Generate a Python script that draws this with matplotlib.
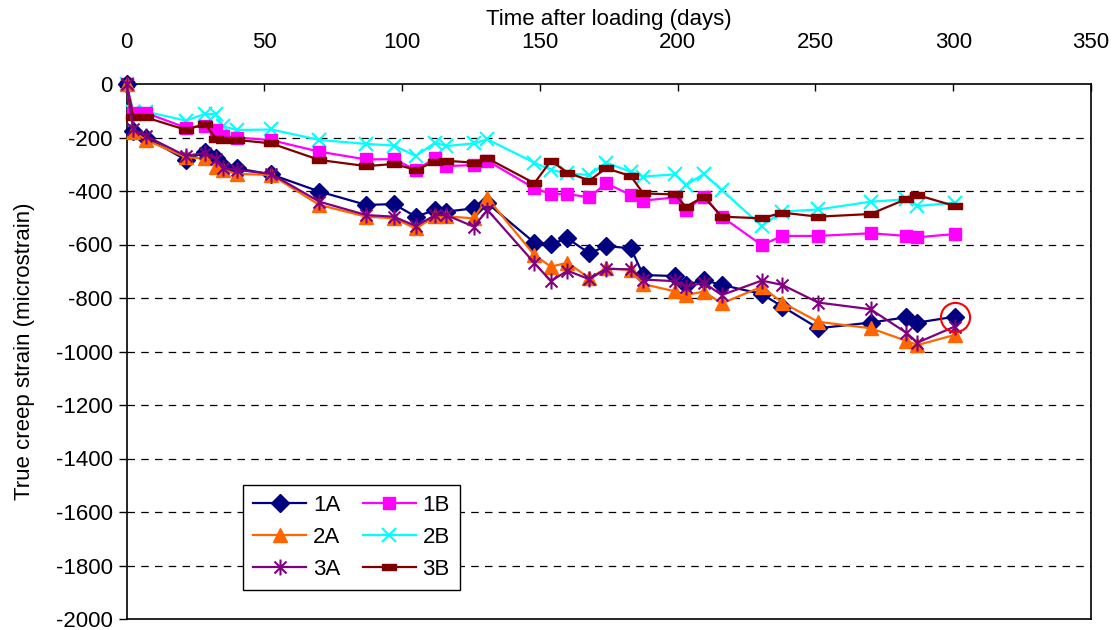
import matplotlib
matplotlib.use("Agg")
import matplotlib.pyplot as plt
from matplotlib.path import Path

plt.rcParams['font.family'] = ['Liberation Sans', 'DejaVu Sans']
plt.rcParams['axes.unicode_minus'] = False

# days after loading (shared by all six specimens)
days = [0, 2.5, 7, 21.5, 28.5, 32.5, 35, 40, 52.5, 70, 87, 97, 105, 112, 116,
        126, 131, 148, 154, 160, 168, 174, 183, 187.5, 199, 203, 209.5, 216,
        230.5, 238, 251, 270, 283, 287, 300.5]

s1A = [0, -174, -200, -283, -255, -275, -305, -315, -338, -402, -452, -449,
       -496, -471, -477, -465, -446, -593, -598, -577, -633, -606, -614, -714,
       -718, -751, -733, -751, -785, -832, -913, -892, -872, -892, -870]
s2A = [0, -178, -209, -274, -278, -309, -321, -336, -340, -452, -496, -502,
       -540, -495, -495, -502, -427, -639, -683, -668, -726, -689, -695, -748,
       -775, -789, -776, -820, -758, -817, -889, -913, -960, -976, -938]
s3A = [0, -170, -194, -269, -257, -282, -315, -321, -336, -440, -490, -496,
       -531, -490, -490, -533, -471, -669, -737, -698, -730, -691, -693, -731,
       -737, -758, -743, -789, -735, -751, -817, -842, -930, -967, -907]
s1B = [0, -110, -108, -163, -157, -172, -195, -200, -210, -253, -282, -281,
       -321, -278, -307, -303, -287, -390, -411, -411, -424, -371, -415, -436,
       -424, -471, -421, -496, -602, -568, -568, -558, -568, -573, -561]
s2B = [0, -103, -103, -137, -112, -113, -158, -172, -170, -209, -224, -230,
       -269, -219, -232, -222, -207, -294, -321, -334, -340, -294, -328, -346,
       -338, -378, -336, -396, -531, -477, -469, -440, -431, -456, -444]
s3B = [0, -125, -125, -171, -150, -204, -208, -209, -222, -284, -307, -299,
       -321, -290, -287, -294, -278, -371, -287, -331, -361, -315, -344, -409,
       -413, -459, -421, -496, -502, -481, -496, -486, -430, -415, -456]

x_ticks = [0, 50, 100, 150, 200, 250, 300, 350]
y_ticks = list(range(-2000, 1, 200))

# custom markers: excel style star and short bar
star = Path([(0, -1), (0, 1), (-0.75, -0.75), (0.75, 0.75), (-0.75, 0.75), (0.75, -0.75)],
            [Path.MOVETO, Path.LINETO] * 3)
bar = Path([(-1, -0.38), (1, -0.38), (1, 0.38), (-1, 0.38), (-1, -0.38)],
           [Path.MOVETO, Path.LINETO, Path.LINETO, Path.LINETO, Path.CLOSEPOLY])

fs = 16

fig = plt.figure(figsize=(11.17, 6.3), dpi=100)
ax = fig.add_axes([126.5 / 1117, 1 - 619 / 630, (1091 - 126.5) / 1117, (619 - 84) / 630])

for yv in y_ticks[1:-1]:
    ax.axhline(yv, color='black', lw=0.9, ls=(0, (6, 5)), zorder=1)

series = [
    ('1A', s1A, '#000080', dict(marker='D', ms=9)),
    ('2A', s2A, '#FF6600', dict(marker='^', ms=10.5)),
    ('3A', s3A, '#800080', dict(marker=star, ms=11.5, mfc='none', mew=1.5)),
    ('1B', s1B, '#FF00FF', dict(marker='s', ms=8.5)),
    ('2B', s2B, '#00FFFF', dict(marker='x', ms=10, mew=1.5)),
    ('3B', s3B, '#800000', dict(marker=bar, ms=10.5)),
]
draw_order = ['2B', '1B', '3B', '1A', '2A', '3A']
handles = {}
for name, vals, col, mk in series:
    z = 3 + draw_order.index(name)
    ln, = ax.plot(days, vals, color=col, lw=1.6, mec=col, mfc=mk.pop('mfc', col),
                  label=name, zorder=z, clip_on=False, **mk)
    handles[name] = ln

# circled last reading of 1A
ax.plot([days[-1]], [s1A[-1]], marker='o', ms=21, mfc='none', mec='#FF0000',
        mew=1.5, ls='none', zorder=10, clip_on=False)

ax.set_xlim(0, 350)
ax.set_ylim(-2000, 0)
ax.set_xticks(x_ticks)
ax.set_yticks(y_ticks)
ax.xaxis.tick_top()
ax.xaxis.set_label_position('top')
ax.tick_params(axis='x', direction='in', length=5, width=1, pad=22, labelsize=fs)
ax.tick_params(axis='y', direction='out', length=6, width=1, pad=4, labelsize=fs)
for sp in ax.spines.values():
    sp.set_linewidth(1.2)
    sp.set_color('black')

ax.set_xlabel('Time after loading (days)', fontsize=fs, labelpad=5)
ax.set_ylabel('True creep strain (microstrain)', fontsize=fs)
ax.yaxis.set_label_coords(-0.095, 0.5)

order = ['1A', '2A', '3A', '1B', '2B', '3B']
leg = ax.legend([handles[n] for n in order], order, ncol=2, loc='upper left',
                bbox_to_anchor=(243 / 1117, 1 - 485 / 630), bbox_transform=fig.transFigure,
                borderaxespad=0, fancybox=False, framealpha=1, edgecolor='black',
                fontsize=fs, handlelength=2.4, handletextpad=0.3, columnspacing=1.0,
                labelspacing=0.5, borderpad=0.45, numpoints=1)
leg.get_frame().set_linewidth(1.0)

fig.savefig('out.png', dpi=100)
